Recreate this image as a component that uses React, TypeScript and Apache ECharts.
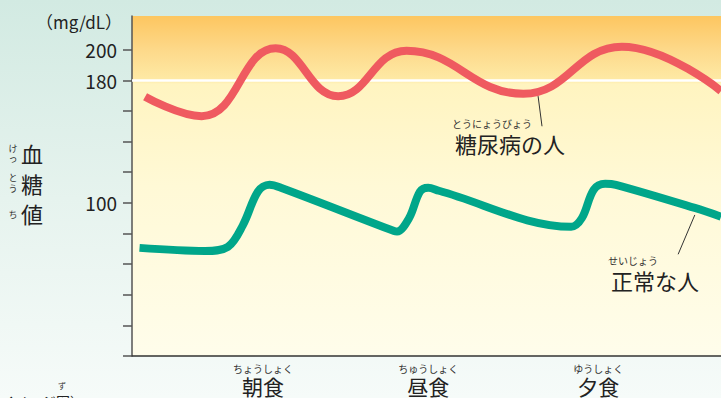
import React, { useEffect, useRef } from 'react';
import * as echarts from 'echarts';

const FONT = '"Noto Sans CJK JP", "Noto Sans", sans-serif';

// y axis (mg/dL)
const yTickValues = [0, 20, 40, 60, 80, 100, 120, 140, 160, 180, 200];
const yLabelValues = [100, 180, 200];
const targetLevel = 180;

// meals (hour of day)
const mealTimes = [8.0, 13.05, 18.25];
const mealNames = ['朝食', '昼食', '夕食'];
const mealRuby = ['ちょうしょく', 'ちゅうしょく', 'ゆうしょく'];

// blood glucose of a person with diabetes [hour, mg/dL]
const diabetesSeries: [number, number][] = [
  [4.4, 169.3], [6.13, 156.6], [8.39, 200.9], [10.3, 169.6],
  [12.39, 199.3], [15.96, 171.2], [18.97, 202.0], [22.0, 173.0],
];

// blood glucose of a healthy person [hour, mg/dL]
const normalSeries: [number, number][] = [
  [4.23, 70.6], [6.23, 68.6], [6.93, 71.3], [7.39, 85.5], [7.85, 107.4],
  [8.2, 111.8], [8.55, 109.9], [12.01, 81.6], [12.1, 81.3], [12.47, 90.1],
  [12.8, 107.4], [13.05, 109.9], [13.38, 107.9], [17.42, 84.4], [17.75, 90.1],
  [18.11, 108.6], [18.46, 112.5], [18.79, 111.8], [21.2, 96.7], [22.0, 91.0],
];

const diabetesLeader: [number, number][] = [[16.41, 169.7], [16.53, 150.0]];
const normalLeader: [number, number][] = [[21.2, 92.1], [20.69, 66.4]];

const diabetesLabel = '糖尿病の人';
const diabetesRuby = 'とうにょうびょう';
const normalLabel = '正常な人';
const normalRuby = 'せいじょう';
const unitLabel = '（mg/dL）';
const noteLabel = '（イメージ図）';
const noteRuby = 'ず';

function txt(text: string, x: number, y: number, size: number, align = 'left', fill = '#222') {
  return {
    type: 'text',
    x,
    y,
    silent: true,
    style: {
      text,
      fontSize: size,
      fontFamily: FONT,
      fill,
      align,
      textAlign: align,
      verticalAlign: 'middle',
      textVerticalAlign: 'middle',
    },
  };
}

export default function App() {
  const ref = useRef<HTMLDivElement>(null);
  useEffect(() => {
    if (!ref.current) return;
    const chart = echarts.init(ref.current, null, { renderer: 'svg' });
    const option: any = {
      animation: false,
      backgroundColor: 'transparent',
      grid: {
        left: 132,
        top: 16,
        right: 0,
        height: 340,
        show: true,
        borderWidth: 0,
        containLabel: false,
        outerBoundsMode: 'none',
        backgroundColor: new echarts.graphic.LinearGradient(0, 0, 0, 1, [
          { offset: 0, color: '#fdc660' },
          { offset: 0.1, color: '#fdd98a' },
          { offset: 0.19, color: '#feeaa6' },
          { offset: 0.2, color: '#fff4c0' },
          { offset: 0.5, color: '#fff9d6' },
          { offset: 1, color: '#fffdeb' },
        ]),
      },
      xAxis: {
        type: 'value',
        min: 4,
        max: 22,
        splitLine: { show: false },
        axisTick: { show: false },
        axisLine: { show: true, lineStyle: { color: '#333', width: 1.5 } },
        axisLabel: {
          show: true,
          customValues: mealTimes,
          margin: 6,
          formatter: (val: number) => {
            const i = mealTimes.findIndex((t) => Math.abs(t - val) < 1e-6);
            if (i < 0) return '';
            return `{r|${mealRuby[i]}}\n{k|${mealNames[i]}}`;
          },
          rich: {
            r: { fontSize: 10, lineHeight: 12, fontFamily: FONT, color: '#333', align: 'center' },
            k: { fontSize: 21, lineHeight: 24, fontFamily: FONT, color: '#222', align: 'center' },
          },
        },
      },
      yAxis: {
        type: 'value',
        min: 0,
        max: 222,
        interval: 20,
        splitLine: { show: false },
        axisLine: { show: true, lineStyle: { color: '#555', width: 1.5 } },
        axisTick: {
          show: true,
          customValues: yTickValues,
          length: 9,
          lineStyle: { color: '#555', width: 1.5 },
        },
        axisLabel: {
          show: true,
          customValues: yLabelValues,
          margin: 15,
          fontSize: 19,
          fontFamily: FONT,
          color: '#222',
        },
      },
      series: [
        {
          type: 'line',
          data: diabetesSeries,
          smooth: 0.45,
          symbol: 'none',
          silent: true,
          z: 3,
          lineStyle: { color: '#ef5a60', width: 8, cap: 'butt' },
          markLine: {
            silent: true,
            symbol: 'none',
            label: { show: false },
            lineStyle: { color: '#ffffff', width: 2.5, type: 'solid' },
            data: [{ yAxis: targetLevel }],
            z: 1,
          },
        },
        {
          type: 'line',
          data: normalSeries,
          smooth: 0.35,
          symbol: 'none',
          silent: true,
          z: 3,
          lineStyle: { color: '#00a68a', width: 8, cap: 'butt' },
        },
        {
          type: 'line',
          data: diabetesLeader,
          symbol: 'none',
          silent: true,
          z: 2,
          lineStyle: { color: '#333', width: 1 },
        },
        {
          type: 'line',
          data: normalLeader,
          symbol: 'none',
          silent: true,
          z: 2,
          lineStyle: { color: '#333', width: 1 },
        },
      ],
      graphic: [
        txt(unitLabel, 122, 21, 17, 'right'),
        // 血糖値 with ruby
        txt('血', 32, 153, 22, 'center'),
        txt('糖', 32, 183, 22, 'center'),
        txt('値', 32, 213, 22, 'center'),
        txt('け', 13, 148, 9, 'center', '#333'),
        txt('っ', 13, 158, 9, 'center', '#333'),
        txt('と', 13, 177, 9, 'center', '#333'),
        txt('う', 13, 188, 9, 'center', '#333'),
        txt('ち', 13, 214, 9, 'center', '#333'),
        // annotations
        txt(diabetesRuby, 452, 123, 10, 'left', '#333'),
        txt(diabetesLabel, 455, 143, 22, 'left'),
        txt(normalRuby, 608, 260, 10, 'left', '#333'),
        txt(normalLabel, 611, 280, 22, 'left'),
        // note at bottom left
        txt(noteRuby, 62, 385, 8, 'center', '#333'),
        txt(noteLabel, 84, 401, 14, 'right'),
      ],
    };
    chart.setOption(option);
    return () => chart.dispose();
  }, []);
  return (
    <div
      style={{
        position: 'fixed',
        left: 0,
        top: 0,
        width: 721,
        height: 398,
        overflow: 'hidden',
        background: 'linear-gradient(to bottom, #d2eae2 0%, #e6f3ee 50%, #f6fbf9 100%)',
      }}
    >
      <div ref={ref} style={{ width: 721, height: 398 }} />
    </div>
  );
}
